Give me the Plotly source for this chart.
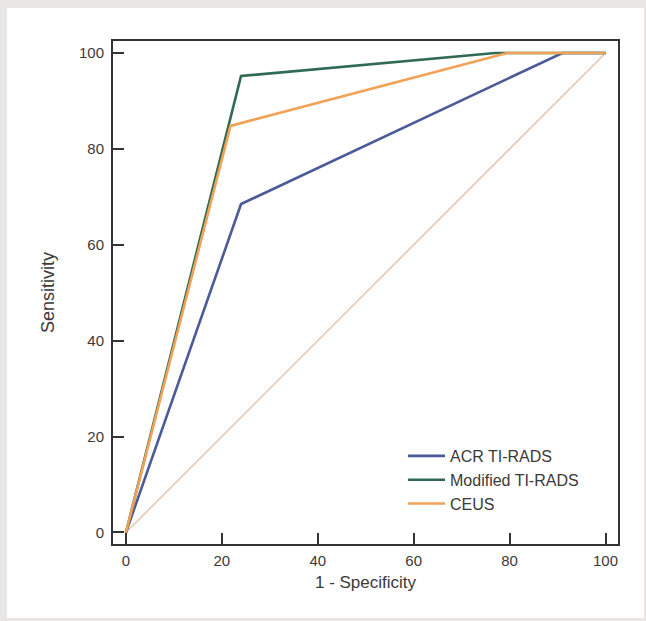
import plotly.graph_objects as go

# Data
acr_x = [0, 24, 91, 100]
acr_y = [0, 68.5, 100, 100]
mod_x = [0, 24, 77, 100]
mod_y = [0, 95.2, 100, 100]
ceus_x = [0, 21.8, 79.5, 100]
ceus_y = [0, 84.8, 100, 100]
ref_x = [0, 100]
ref_y = [0, 100]
tick_vals = [0, 20, 40, 60, 80, 100]

W, H = 646, 621
L, R, T, B = 113, 28, 41, 77
pw, ph = W - L - R, H - T - B
FONT = "Liberation Sans, Arial, sans-serif"
TXT = "#3a3a3a"

fig = go.Figure()
fig.add_trace(go.Scatter(x=ref_x, y=ref_y, mode="lines", showlegend=False,
                         line=dict(color="#e6c8b4", width=1.6), hoverinfo="skip"))
fig.add_trace(go.Scatter(x=acr_x, y=acr_y, mode="lines", name="ACR TI-RADS",
                         line=dict(color="#4b5a99", width=2.6)))
fig.add_trace(go.Scatter(x=mod_x, y=mod_y, mode="lines", name="Modified TI-RADS",
                         line=dict(color="#2f6b52", width=2.6)))
fig.add_trace(go.Scatter(x=ceus_x, y=ceus_y, mode="lines", name="CEUS",
                         line=dict(color="#f2a257", width=2.6)))

def px2paper_x(p):
    return (p - L) / pw

def px2paper_y(p):
    return (H - B - p) / ph

fig.add_shape(type="rect", xref="paper", yref="paper", layer="below",
              x0=px2paper_x(7), x1=px2paper_x(644), y0=px2paper_y(618), y1=px2paper_y(8),
              fillcolor="white", line=dict(width=0))

axis_common = dict(
    showgrid=False, zeroline=False, showline=True, linecolor="#333333", linewidth=2,
    mirror=True, ticks="inside", ticklen=11, tickwidth=2, tickcolor="#333333",
    tickvals=tick_vals, tickfont=dict(family=FONT, size=15, color=TXT),
)
fig.update_xaxes(range=[-2.7, 102.6], ticklabelstandoff=2,
                 title=dict(text="1 - Specificity", standoff=8,
                            font=dict(family=FONT, size=17, color=TXT)),
                 **axis_common)
fig.update_yaxes(range=[-2.4, 102.5], ticklabelstandoff=4,
                 title=dict(text="Sensitivity", standoff=20,
                            font=dict(family=FONT, size=18, color=TXT)),
                 **axis_common)

fig.update_layout(
    width=W, height=H,
    margin=dict(l=L, r=R, t=T, b=B),
    paper_bgcolor="#e9e7e5", plot_bgcolor="white",
    font=dict(family=FONT, size=15, color=TXT),
    legend=dict(x=px2paper_x(403), y=px2paper_y(439), xanchor="left", yanchor="top",
                bgcolor="rgba(0,0,0,0)", font=dict(family=FONT, size=16, color=TXT),
                tracegroupgap=0, itemwidth=37),
)

fig.write_html("out.html", config={"displayModeBar": False},
               post_script="document.body.style.margin='0';")
